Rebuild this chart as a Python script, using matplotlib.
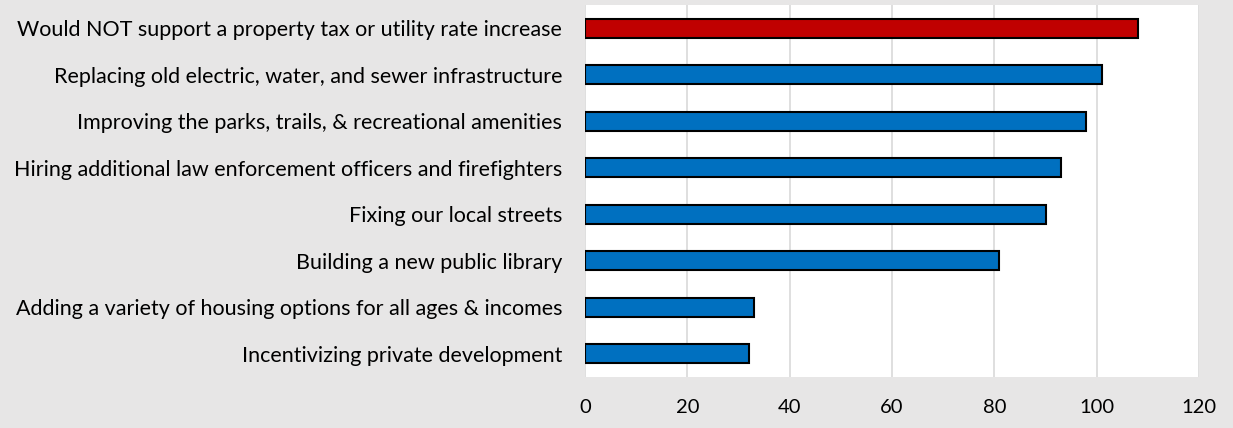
import matplotlib.pyplot as plt

# Data (top to bottom)
labels = [
    "Would NOT support a property tax or utility rate increase",
    "Replacing old electric, water, and sewer infrastructure",
    "Improving the parks, trails, & recreational amenities",
    "Hiring additional law enforcement officers and firefighters",
    "Fixing our local streets",
    "Building a new public library",
    "Adding a variety of housing options for all ages & incomes",
    "Incentivizing private development",
]
values = [108, 101, 98, 93, 90, 81, 33, 32]
colors = ["#C00000"] + ["#0070C0"] * 7
xticks = [0, 20, 40, 60, 80, 100, 120]

plt.rcParams['font.family'] = ['Lato', 'DejaVu Sans']

fig = plt.figure(figsize=(12.33, 4.28), dpi=100, facecolor="#E7E6E6")
ax = fig.add_axes([585 / 1233, 1 - 377 / 428, 614 / 1233, 372 / 428])
ax.set_facecolor("white")

y = list(range(len(labels)))[::-1]
ax.barh(y, values, height=0.4, color=colors, edgecolor="black", linewidth=1.5, zorder=3)

ax.set_xlim(0, 120)
ax.set_ylim(-0.5, len(labels) - 0.5)
ax.set_xticks(xticks)
ax.set_yticks(y)
ax.set_yticklabels(labels)
ax.tick_params(axis="x", length=0, labelsize=14.5, pad=16)
ax.tick_params(axis="y", length=0, labelsize=15.5, pad=16.5)
ax.grid(axis="x", color="#D9D9D9", linewidth=1.2, zorder=0)
for s in ax.spines.values():
    s.set_visible(False)

fig.savefig("out.png", dpi=100, facecolor=fig.get_facecolor())
